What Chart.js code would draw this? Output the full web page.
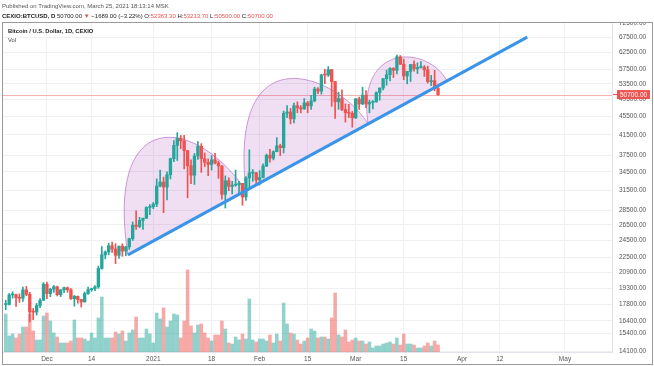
<!DOCTYPE html>
<html>
<head>
<meta charset="utf-8">
<script src="https://cdn.jsdelivr.net/npm/chart.js@4.4.0/dist/chart.umd.min.js"></script>
<style>
  body { margin: 0; background: #fff; }
  #wrap { position: relative; width: 654px; height: 366px; overflow: hidden; font-family: "Liberation Sans", Arial, sans-serif; color: #333; }
  #chart { position: absolute; left: 0; top: 0; }
  .txt { position: absolute; white-space: nowrap; font-size: 6px; line-height: 8px; }
  .red { color: #ef5350; }
  #frame { position: absolute; left: 2px; top: 22px; width: 651px; height: 343px; box-sizing: border-box; border: 1px solid #9a9a9a; pointer-events: none; }
</style>
</head>
<body>
<div id="wrap">
  <canvas id="chart" width="654" height="366"></canvas>
  <div id="frame"></div>
  <div class="txt" style="left:2px; top:2px; color:#555;">Published on TradingView.com, March 25, 2021 18:13:14 MSK</div>
  <div class="txt" style="left:2px; top:12px; color:#222;"><b>CEXIO:BTCUSD, D</b> 50700.00 <span class="red">▼</span> −1689.00 (−3.22%) O:<span class="red">52363.30</span> H:<span class="red">53213.70</span> L:<span class="red">50500.00</span> C:<span class="red">50700.00</span></div>
  <div class="txt" style="left:8px; top:27px; color:#222; font-size:5.8px;"><b>Bitcoin / U.S. Dollar, 1D, CEXIO</b></div>
  <div class="txt" style="left:8px; top:36px; color:#444; font-size:5.8px;">Vol</div>
</div>
<script>
// daily candles, first one is 2020-11-19
const firstDate = '2020-11-19';
const originDate = '2020-12-01';

const open = [17800, 17810, 18680, 18700, 18420, 18370, 19150, 18730, 17150, 17140, 17720, 18180,
  19700, 18790, 19210, 19450, 18700, 19150, 19360, 19170, 18320, 18550, 18250, 18030, 18800, 19170, 19270, 19440,
  21310, 22800, 23130, 23860, 23480, 22750, 23820, 23240, 23730, 24710, 26440, 26280, 27080, 27370, 28880,
  28980, 29380, 32130, 32780, 31970, 33990, 36820, 39370, 40800, 40250, 38350, 35550, 33920, 37320, 39190,
  36830, 36180, 35790, 36630, 36070, 35510, 30830, 33000, 32080, 32280, 32370, 32570, 30430, 33470, 34270, 34320,
  33110, 33540, 35510, 37470, 36930, 38140, 39270, 38900, 46200, 46480, 44920, 47970, 47460, 47190, 48650,
  47940, 49130, 52120, 51560, 55900, 55880, 57410, 54090, 48890, 49700, 47070, 46340, 46190,
  45140, 49630, 48380, 50540, 48370, 48760, 48880, 51210, 52380, 54880, 55960, 57770, 57220, 61190, 59000,
  55610, 56910, 58910, 57650, 58030, 58100, 57350, 54080, 54340, 52363.3];
const high = [18180, 18800, 18970, 18750, 18770, 19420, 19480, 18920, 17460, 17900, 18330, 19860,
  19920, 19300, 19580, 19510, 19180, 19420, 19420, 19280, 18630, 18570, 18270, 18950, 19410, 19320, 19560, 21560,
  23770, 23260, 24170, 24300, 24100, 23830, 24100, 23780, 24780, 26870, 28400, 27500, 27400, 28990, 29300,
  29600, 33300, 34800, 33600, 34500, 36940, 40300, 41950, 41350, 41400, 38350, 36600, 37800, 40100, 39700,
  37900, 36800, 37400, 37850, 36400, 35600, 33800, 33500, 32900, 34800, 32900, 32570, 33700, 38500, 34900, 34400,
  34700, 35900, 37700, 38600, 38300, 40900, 39600, 46700, 48000, 47300, 48600, 48900, 48000, 49700, 49000,
  50500, 52600, 52500, 56100, 57500, 58300, 57500, 54100, 51300, 51900, 48400, 48300, 46600,
  49700, 50100, 52600, 51700, 49300, 49200, 51400, 52400, 54900, 57300, 58000, 58000, 61700, 61600, 60500,
  56900, 58900, 60000, 59400, 59800, 58600, 58400, 55800, 57200, 53213.7];
const low = [17350, 17760, 18370, 17630, 18000, 18080, 18600, 16330, 16500, 16890, 17520, 18180,
  18330, 18510, 18920, 18580, 18520, 18880, 18920, 18250, 17660, 17920, 17580, 18020, 18730, 19000, 19080, 19300,
  21230, 22350, 22800, 23070, 21830, 22390, 22640, 22700, 23440, 24500, 25880, 26100, 25880, 27330, 27850,
  28700, 29000, 32000, 28130, 30000, 33300, 36300, 36500, 38700, 35000, 30300, 32500, 32400, 36700, 34400,
  35400, 33850, 34800, 35900, 33400, 30100, 28800, 31400, 30900, 32100, 30800, 29200, 29900, 31900, 32900, 32200,
  32300, 33450, 35400, 36200, 36600, 38100, 37400, 37900, 45200, 43800, 44000, 46300, 46300, 47100, 46300,
  47100, 48900, 50900, 50800, 53500, 55500, 47800, 45000, 47100, 46800, 44200, 45200, 43100,
  45000, 47100, 48200, 47500, 46300, 47200, 48800, 49300, 51900, 53100, 54300, 55200, 56200, 58900, 54600,
  53500, 54100, 57000, 56300, 57800, 55500, 53700, 53000, 51700, 50500];
const close = [17810, 18680, 18700, 18420, 18370, 19150, 18730, 17150, 17140, 17720, 18180, 19700,
  18790, 19210, 19450, 18700, 19150, 19360, 19170, 18320, 18550, 18250, 18030, 18800, 19170, 19270, 19440, 21310,
  22800, 23130, 23860, 23480, 22750, 23820, 23240, 23730, 24710, 26440, 26280, 27080, 27370, 28880, 28980,
  29380, 32130, 32780, 31970, 33990, 36820, 39370, 40800, 40250, 38350, 35550, 33920, 37320, 39190, 36830,
  36180, 35790, 36630, 36070, 35510, 30830, 33000, 32080, 32280, 32370, 32570, 30430, 33470, 34320, 34320, 33110,
  33540, 35510, 37470, 36930, 38140, 39270, 38900, 46200, 46480, 44920, 47970, 47460, 47190, 48650, 47940,
  49130, 52120, 51560, 55900, 55880, 57410, 54090, 48890, 49700, 47070, 46340, 46190, 45140,
  49630, 48380, 50540, 48370, 48760, 48880, 51210, 52380, 54880, 55960, 57770, 57220, 61190, 59000, 55610,
  56910, 58910, 57650, 58030, 58100, 57350, 54080, 54340, 52389, 50700];
const volume = [3800, 1600, 1800, 1400, 1800, 2500, 2500, 3800, 2100, 1200, 1200, 3600,
  3900, 3100, 1900, 1500, 900, 900, 900, 1100, 3200, 1400, 1400, 1300, 1100, 1900, 1400, 3400, 5500, 1400, 1400,
  1400, 2000, 1800, 2100, 1100, 1900, 2200, 3500, 1400, 1400, 2300, 1800,
  900, 3900, 3300, 4400, 2500, 3100, 3800, 3700, 1400, 3100, 8200, 2600, 1900, 2700, 2800, 1900, 1400, 1100,
  1700, 1700, 3100, 2300, 900, 800, 1500, 1200, 1800, 1300, 5300, 1200, 1000,
  1300, 1300, 1100, 1700, 900, 1800, 1100, 4900, 2800, 1900, 1800, 1200, 800, 1100, 1400, 2300, 2100, 1400,
  1500, 1500, 1300, 3400, 5900, 1700, 1500, 2200, 1000, 1200, 1400, 1100, 1100, 800, 1000, 400, 600, 600,
  800, 900, 1000, 800, 1400, 700, 1800, 800, 800, 700, 400, 400, 600, 900, 600, 1100, 700];

const tickDates = ['2020-12-01', '2020-12-14', '2021-01-01', '2021-01-18', '2021-02-01', '2021-02-15',
  '2021-03-01', '2021-03-15', '2021-04-01', '2021-04-12', '2021-05-01'];
const tickLabels = ['Dec', '14', '2021', '18', 'Feb', '15', 'Mar', '15', 'Apr', '12', 'May'];
const priceTicks = [14100, 15400, 16400, 17800, 19300, 20900, 22500, 24500, 26500, 28500, 31500, 34500,
  37500, 41500, 45500, 49500, 53500, 57500, 62500, 67500, 72500];
const lastPrice = 50700;

// drawings, x in days after Dec 1 2020
const trendLine = [{x: 23.6, y: 22800}, {x: 140, y: 67500}];
// each arc: start, control 1, control 2, end
const arcs = [
  [{x: 23.6, y: 22800}, {x: 16.9, y: 48130}, {x: 43.2, y: 45570}, {x: 58, y: 31420}],
  [{x: 58, y: 31420}, {x: 52.8, y: 69960}, {x: 84.8, y: 55900}, {x: 93.6, y: 43800}],
  [{x: 93.6, y: 43800}, {x: 90.1, y: 65900}, {x: 111.1, y: 64920}, {x: 116.6, y: 54280}]
];

const UP = '#26a69a', DOWN = '#ef5350';
const UP_VOL = 'rgba(38,166,154,0.5)', DOWN_VOL = 'rgba(239,83,80,0.5)';

function dayNum(s) {
  return Math.round((Date.parse(s) - Date.parse(originDate)) / 86400000);
}
const start = dayNum(firstDate);
const days = close.map((c, i) => start + i);
const isUp = close.map((c, i) => c >= open[i]);

const drawings = {
  id: 'drawings',
  beforeDatasetsDraw(chart) {
    const {ctx, chartArea: a, scales: {x, y}} = chart;
    ctx.save();
    ctx.beginPath();
    ctx.rect(a.left, a.top, a.right - a.left, a.bottom - a.top);
    ctx.clip();
    // last price line
    const py = Math.round(y.getPixelForValue(lastPrice)) + 0.5;
    ctx.strokeStyle = '#f6b3b1';
    ctx.lineWidth = 1;
    ctx.beginPath();
    ctx.moveTo(a.left, py);
    ctx.lineTo(a.right, py);
    ctx.stroke();
    arcs.forEach(arc => {
      const p = arc.map(pt => [x.getPixelForValue(pt.x), y.getPixelForValue(pt.y)]);
      ctx.beginPath();
      ctx.moveTo(p[0][0], p[0][1]);
      ctx.bezierCurveTo(p[1][0], p[1][1], p[2][0], p[2][1], p[3][0], p[3][1]);
      ctx.closePath();
      ctx.fillStyle = 'rgba(156,39,176,0.15)';
      ctx.fill();
      ctx.beginPath();
      ctx.moveTo(p[0][0], p[0][1]);
      ctx.bezierCurveTo(p[1][0], p[1][1], p[2][0], p[2][1], p[3][0], p[3][1]);
      ctx.strokeStyle = 'rgba(156,39,176,0.45)';
      ctx.stroke();
    });
    ctx.restore();
  },
  afterDraw(chart) {
    const {ctx, chartArea: a, scales: {y}} = chart;
    ctx.save();
    ctx.fillStyle = '#fff';
    ctx.fillRect(a.right + 1, 0, chart.width - a.right, a.top);
    const py = y.getPixelForValue(lastPrice);
    ctx.fillStyle = DOWN;
    ctx.fillRect(a.right + 5, py - 4.5, 33, 9);
    ctx.fillRect(a.right + 1, py - 0.5, 4, 1);
    ctx.fillStyle = '#fff';
    ctx.font = '6.5px "Liberation Sans", Arial, sans-serif';
    ctx.textBaseline = 'middle';
    ctx.fillText(lastPrice.toFixed(2), a.right + 8, py + 0.5);
    ctx.restore();
  }
};

new Chart(document.getElementById('chart'), {
  type: 'bar',
  data: {
    datasets: [
      {
        type: 'line',
        data: trendLine,
        borderColor: '#3a94e8',
        borderWidth: 3,
        pointRadius: 0,
        yAxisID: 'y',
        order: 0
      },
      {
        data: days.map((d, i) => ({x: d, y: [open[i], close[i]]})),
        backgroundColor: isUp.map(u => u ? UP : DOWN),
        barThickness: 2.7,
        minBarLength: 1,
        grouped: false,
        yAxisID: 'y',
        order: 1
      },
      {
        data: days.map((d, i) => ({x: d, y: [low[i], high[i]]})),
        backgroundColor: isUp.map(u => u ? UP : DOWN),
        barThickness: 1,
        grouped: false,
        yAxisID: 'y',
        order: 2
      },
      {
        data: days.map((d, i) => ({x: d, y: volume[i]})),
        backgroundColor: isUp.map(u => u ? UP_VOL : DOWN_VOL),
        barThickness: 2.9,
        grouped: false,
        yAxisID: 'vol',
        order: 3
      }
    ]
  },
  options: {
    responsive: false,
    animation: false,
    layout: { padding: { left: 3, top: 22, right: 2, bottom: 3 } },
    plugins: { legend: { display: false }, tooltip: { enabled: false } },
    scales: {
      x: {
        type: 'linear',
        offset: false,
        min: -12.8,
        max: 164.7,
        grid: { color: '#eef0f4', drawTicks: false, offset: false },
        border: { display: true, color: '#e0e3eb' },
        afterBuildTicks: s => { s.ticks = tickDates.map(t => ({value: dayNum(t)})); },
        afterFit: s => { s.height = 11; },
        ticks: {
          autoSkip: false,
          maxRotation: 0,
          padding: 3,
          color: '#555',
          font: { family: '"Liberation Sans", Arial, sans-serif', size: 6.5 },
          callback: (v) => tickLabels[tickDates.findIndex(t => dayNum(t) === v)]
        }
      },
      y: {
        type: 'logarithmic',
        position: 'right',
        min: 14050,
        max: 72800,
        grid: { color: '#eef0f4', drawTicks: false },
        border: { display: true, color: '#e0e3eb' },
        afterBuildTicks: s => { s.ticks = priceTicks.map(v => ({value: v})); },
        afterFit: s => { s.width = 40; },
        ticks: {
          padding: 7,
          color: '#555',
          font: { family: '"Liberation Sans", Arial, sans-serif', size: 6.5 },
          callback: v => Number(v).toFixed(2)
        }
      },
      vol: {
        type: 'linear',
        display: false,
        min: 0,
        max: 33000
      }
    }
  },
  plugins: [drawings]
});
</script>
</body>
</html>
